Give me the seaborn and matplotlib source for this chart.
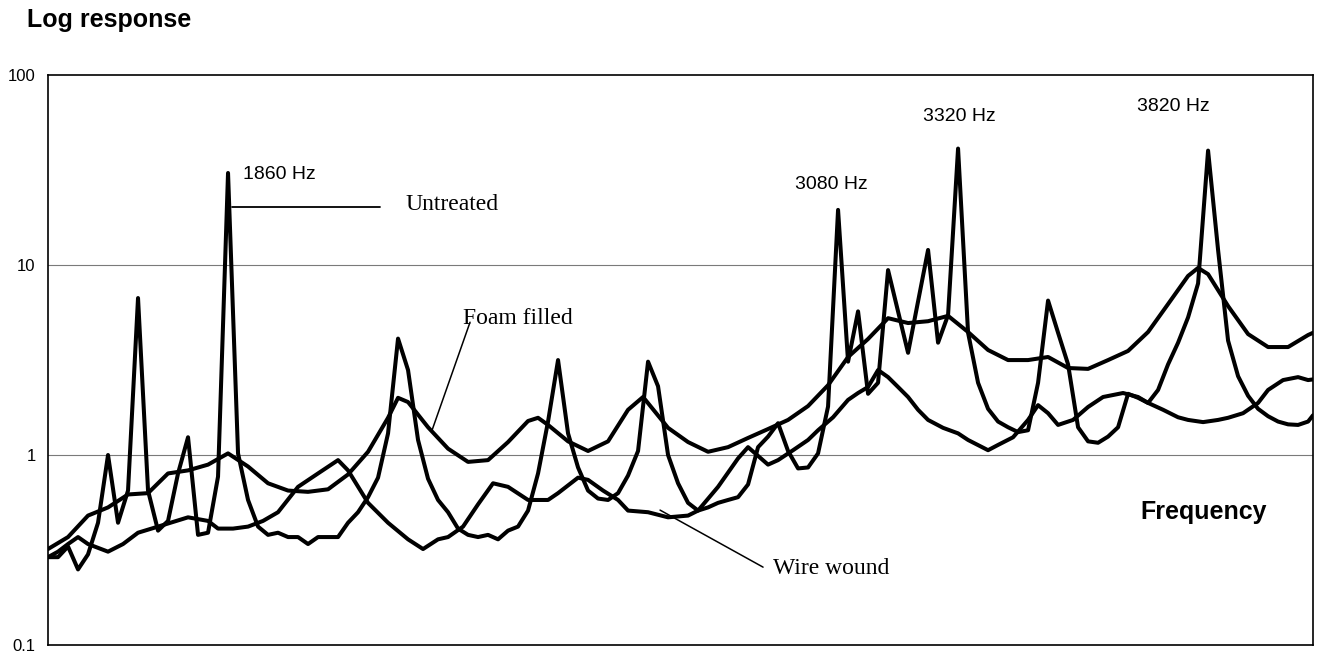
import numpy as np
import pandas as pd
import matplotlib
matplotlib.use("Agg")
import matplotlib.pyplot as plt
import seaborn as sns

# ---------------- data ----------------
untreated_freq = [1500, 1520, 1540, 1560, 1580, 1600, 1620, 1640, 1660, 1680,
                  1700, 1720, 1740, 1760, 1780, 1800, 1820, 1840, 1860, 1880,
                  1900, 1920, 1940, 1960, 1980, 2000, 2020, 2040, 2060, 2080,
                  2100, 2120, 2140, 2160, 2180, 2200, 2220, 2240, 2260, 2280,
                  2300, 2320, 2340, 2360, 2380, 2400, 2420, 2440, 2460, 2480,
                  2500, 2520, 2540, 2560, 2580, 2600, 2620, 2640, 2660, 2680,
                  2700, 2720, 2740, 2760, 2780, 2800, 2820, 2840, 2860, 2880,
                  2900, 2920, 2940, 2960, 2980, 3000, 3020, 3040, 3060, 3080,
                  3100, 3120, 3140, 3160, 3180, 3220, 3260, 3280, 3300, 3320,
                  3340, 3360, 3380, 3400, 3420, 3440, 3460, 3480, 3500, 3520,
                  3540, 3560, 3580, 3600, 3620, 3640, 3660, 3680, 3700, 3720,
                  3740, 3760, 3780, 3800, 3820, 3840, 3860, 3880, 3900, 3920,
                  3940, 3960, 3980, 4000, 4020, 4030]
untreated_resp = [0.29, 0.29, 0.33, 0.25, 0.30, 0.44, 1.0, 0.44, 0.65, 6.7,
                  0.65, 0.40, 0.45, 0.80, 1.24, 0.38, 0.39, 0.77, 30.5, 1.02,
                  0.58, 0.42, 0.38, 0.39, 0.37, 0.37, 0.34, 0.37, 0.37, 0.37,
                  0.44, 0.50, 0.60, 0.76, 1.3, 4.1, 2.8, 1.2, 0.75, 0.58,
                  0.50, 0.41, 0.38, 0.37, 0.38, 0.36, 0.40, 0.42, 0.51, 0.80,
                  1.5, 3.16, 1.3, 0.86, 0.65, 0.59, 0.58, 0.63, 0.78, 1.05,
                  3.1, 2.3, 1.0, 0.71, 0.56, 0.51, 0.53, 0.56, 0.58, 0.60,
                  0.70, 1.1, 1.25, 1.47, 1.05, 0.85, 0.86, 1.02, 1.8, 19.5,
                  3.1, 5.7, 2.1, 2.4, 9.4, 3.45, 12.0, 3.9, 5.45, 41.0,
                  4.4, 2.4, 1.75, 1.5, 1.4, 1.32, 1.35, 2.4, 6.5, 4.4,
                  3.0, 1.4, 1.18, 1.16, 1.25, 1.4, 2.1, 2.0, 1.88, 2.2,
                  3.0, 3.9, 5.3, 8.0, 40.0, 12.0, 4.0, 2.6, 2.05, 1.75,
                  1.6, 1.5, 1.45, 1.44, 1.5, 1.62]

foam_freq = [1500, 1540, 1580, 1620, 1660, 1700, 1740, 1780, 1820, 1860,
             1900, 1940, 1980, 2020, 2060, 2100, 2140, 2180, 2200, 2220,
             2260, 2300, 2340, 2380, 2420, 2460, 2480, 2500, 2540, 2580,
             2620, 2660, 2690, 2740, 2780, 2820, 2860, 2900, 2940, 2980,
             3020, 3060, 3100, 3140, 3180, 3220, 3260, 3300, 3340, 3380,
             3420, 3460, 3500, 3540, 3580, 3620, 3660, 3700, 3740, 3780,
             3800, 3820, 3860, 3900, 3940, 3980, 4020, 4030]
foam_resp = [0.32, 0.37, 0.48, 0.53, 0.62, 0.63, 0.80, 0.83, 0.89, 1.02,
             0.87, 0.71, 0.65, 0.64, 0.66, 0.79, 1.04, 1.57, 2.0, 1.9,
             1.40, 1.08, 0.92, 0.94, 1.17, 1.51, 1.57, 1.44, 1.18, 1.05,
             1.18, 1.73, 2.02, 1.39, 1.17, 1.04, 1.10, 1.23, 1.37, 1.53,
             1.81, 2.33, 3.28, 4.08, 5.25, 4.95, 5.06, 5.4, 4.44, 3.57,
             3.16, 3.16, 3.28, 2.87, 2.84, 3.16, 3.53, 4.44, 6.23, 8.76,
             9.65, 8.95, 6.08, 4.33, 3.7, 3.7, 4.28, 4.4]

wire_freq = [1500, 1520, 1540, 1560, 1580, 1620, 1650, 1680, 1720, 1780,
             1820, 1840, 1870, 1900, 1930, 1960, 2000, 2040, 2080, 2100,
             2140, 2180, 2220, 2250, 2280, 2300, 2330, 2360, 2390, 2420,
             2460, 2500, 2520, 2560, 2580, 2610, 2640, 2660, 2700, 2740,
             2780, 2800, 2840, 2880, 2900, 2940, 2960, 2990, 3020, 3040,
             3070, 3100, 3120, 3140, 3160, 3180, 3200, 3220, 3240, 3260,
             3290, 3320, 3340, 3380, 3400, 3430, 3460, 3480, 3500, 3520,
             3550, 3580, 3610, 3650, 3680, 3700, 3730, 3760, 3780, 3810,
             3840, 3860, 3890, 3920, 3940, 3970, 4000, 4020, 4030]
wire_resp = [0.29, 0.31, 0.34, 0.37, 0.34, 0.31, 0.34, 0.39, 0.42, 0.47,
             0.45, 0.41, 0.41, 0.42, 0.45, 0.50, 0.68, 0.80, 0.94, 0.83,
             0.56, 0.44, 0.36, 0.32, 0.36, 0.37, 0.42, 0.55, 0.71, 0.68,
             0.58, 0.58, 0.63, 0.76, 0.74, 0.65, 0.58, 0.51, 0.50, 0.47,
             0.48, 0.51, 0.68, 0.96, 1.10, 0.89, 0.94, 1.06, 1.20, 1.35,
             1.58, 1.95, 2.12, 2.28, 2.8, 2.57, 2.28, 2.02, 1.73, 1.53,
             1.39, 1.30, 1.20, 1.06, 1.13, 1.24, 1.53, 1.83, 1.66, 1.44,
             1.53, 1.79, 2.02, 2.12, 2.02, 1.88, 1.73, 1.58, 1.53, 1.49,
             1.53, 1.57, 1.66, 1.88, 2.20, 2.48, 2.57, 2.48, 2.5]

y_ticks = [0.1, 1, 10, 100]
y_tick_labels = ["0.1", "1", "10", "100"]

peak_labels = ["1860 Hz", "3080 Hz", "3320 Hz", "3820 Hz"]

# ---------------- build tables ----------------
df_untreated = pd.DataFrame({"Frequency": untreated_freq, "Response": untreated_resp})
df_foam = pd.DataFrame({"Frequency": foam_freq, "Response": foam_resp})
df_wire = pd.DataFrame({"Frequency": wire_freq, "Response": wire_resp})

# ---------------- figure ----------------
sns.set_theme(style="white")
plt.rcParams["font.family"] = ["Liberation Sans", "DejaVu Sans"]

fig = plt.figure(figsize=(13.23, 6.59), dpi=100)
ax = fig.add_axes([0.0363, 0.0212, 0.9562, 0.8650])

line_kw = dict(color="black", linewidth=2.9, estimator=None, sort=True, legend=False)
sns.lineplot(data=df_foam, x="Frequency", y="Response", ax=ax, **line_kw)
sns.lineplot(data=df_wire, x="Frequency", y="Response", ax=ax, **line_kw)
sns.lineplot(data=df_untreated, x="Frequency", y="Response", ax=ax, **line_kw)

ax.set_yscale("log")
ax.set_ylim(0.1, 100)
ax.set_xlim(1500, 4030)

ax.set_yticks(y_ticks)
ax.set_yticklabels(y_tick_labels)
ax.minorticks_off()
ax.yaxis.set_minor_locator(matplotlib.ticker.NullLocator())
ax.set_xticks([])
ax.tick_params(axis="y", length=0, pad=9, labelsize=12, labelcolor="black")
ax.set_xlabel("")
ax.set_ylabel("")

for v in [1, 10]:
    ax.axhline(v, color="#7a7a7a", linewidth=0.8, zorder=0)

for s in ax.spines.values():
    s.set_visible(True)
    s.set_color("black")
    s.set_linewidth(1.2)

# peak labels
sans = ["Liberation Sans", "DejaVu Sans"]
serif = ["Liberation Serif", "DejaVu Serif"]
peak_pos = [(1890, 30.1), (2994, 26.4), (3250, 60.8), (3678, 67.9)]
for lab, (fx, fy) in zip(peak_labels, peak_pos):
    ax.text(fx, fy, lab, ha="left", va="center", fontsize=14, family=sans, color="black")

# series labels with leader lines
ax.plot([1868, 2164], [20.2, 20.2], color="black", linewidth=1.3)
ax.text(2214, 20.7, "Untreated", ha="left", va="center", fontsize=17, family=serif, color="black")

ax.plot([2344, 2268], [5.0, 1.35], color="black", linewidth=1.1)
ax.text(2330, 5.26, "Foam filled", ha="left", va="center", fontsize=17, family=serif, color="black")

ax.plot([2724, 2930], [0.513, 0.257], color="black", linewidth=1.1)
ax.text(2950, 0.254, "Wire wound", ha="left", va="center", fontsize=17, family=serif, color="black")

ax.text(3684, 0.50, "Frequency", ha="left", va="center", fontsize=18,
        fontweight="bold", family=sans, color="black")

fig.text(0.0204, 0.9697, "Log response", ha="left", va="center", fontsize=18,
         fontweight="bold", family=sans, color="black")

fig.savefig("out.png", dpi=100, facecolor="white")
